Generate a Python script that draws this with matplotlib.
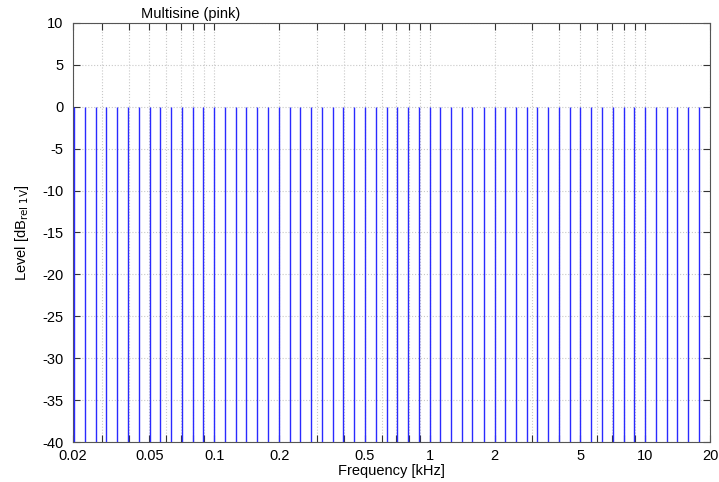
import numpy as np
import matplotlib
matplotlib.use('Agg')
import matplotlib.pyplot as plt
from matplotlib.ticker import FixedLocator, FixedFormatter, NullFormatter

plt.rcParams['font.family'] = ['Liberation Sans', 'DejaVu Sans']
plt.rcParams['axes.unicode_minus'] = False

# multisine components (kHz) and their levels (dB rel 1V)
freqs = [0.0224, 0.0251, 0.0282, 0.0316, 0.0355, 0.0398, 0.0447, 0.0501,
         0.0562, 0.0631, 0.0708, 0.0794, 0.0891, 0.1, 0.112, 0.126, 0.141,
         0.158, 0.178, 0.2, 0.224, 0.251, 0.282, 0.316, 0.355, 0.398, 0.447,
         0.501, 0.562, 0.631, 0.708, 0.794, 0.891, 1.0, 1.12, 1.26, 1.41,
         1.58, 1.78, 2.0, 2.24, 2.51, 2.82, 3.16, 3.55, 3.98, 4.47, 5.01,
         5.62, 6.31, 7.08, 7.94, 8.91, 10.0, 11.2, 12.6, 14.1, 15.8, 17.8]
levels = [0.0] * len(freqs)

xtick_vals = [0.0221, 0.05, 0.1, 0.2, 0.5, 1, 2, 5, 10, 20]
xtick_labels = ['0.02', '0.05', '0.1', '0.2', '0.5', '1', '2', '5', '10', '20']
minor_vals = [m * 10.0 ** d for d in range(-2, 2) for m in range(1, 10)]
minor_vals = [v for v in minor_vals if 0.0221 < v < 20 and v not in xtick_vals]

fig = plt.figure(figsize=(7.19, 4.82), dpi=100)
ax = fig.add_axes([73 / 719, 1 - 442 / 482, (710 - 73) / 719, (442 - 23) / 482])

ax.vlines(freqs, -40, levels, colors='#2a2aff', linewidth=1.0, zorder=3)

ax.set_xscale('log')
ax.set_xlim(0.0221, 20)
ax.set_ylim(-40, 10)
ax.xaxis.set_major_locator(FixedLocator(xtick_vals))
ax.xaxis.set_major_formatter(FixedFormatter(xtick_labels))
ax.xaxis.set_minor_locator(FixedLocator(minor_vals))
ax.xaxis.set_minor_formatter(NullFormatter())
ax.set_yticks(np.arange(-40, 11, 5))

ax.grid(True, which='both', linestyle=':', color='#c8c8c8', linewidth=0.8)
ax.tick_params(which='both', direction='in', top=True, right=True,
               length=5, width=0.8, colors='#333333', labelsize=10.5,
               labelcolor='black')
ax.tick_params(axis='y', pad=7)
ax.tick_params(axis='x', pad=5)
for s in ax.spines.values():
    s.set_color('#555555')
    s.set_linewidth(0.8)

ax.set_xlabel('Frequency [kHz]', fontsize=10.5, labelpad=1)
ax.set_ylabel(r'Level [dB$_{\mathrm{rel\ 1V}}$]', fontsize=10.5, labelpad=8)
ax.text(0.184, 1.005, 'Multisine (pink)', transform=ax.transAxes,
        ha='center', va='bottom', fontsize=10.5)

fig.savefig('out.png', dpi=100)
